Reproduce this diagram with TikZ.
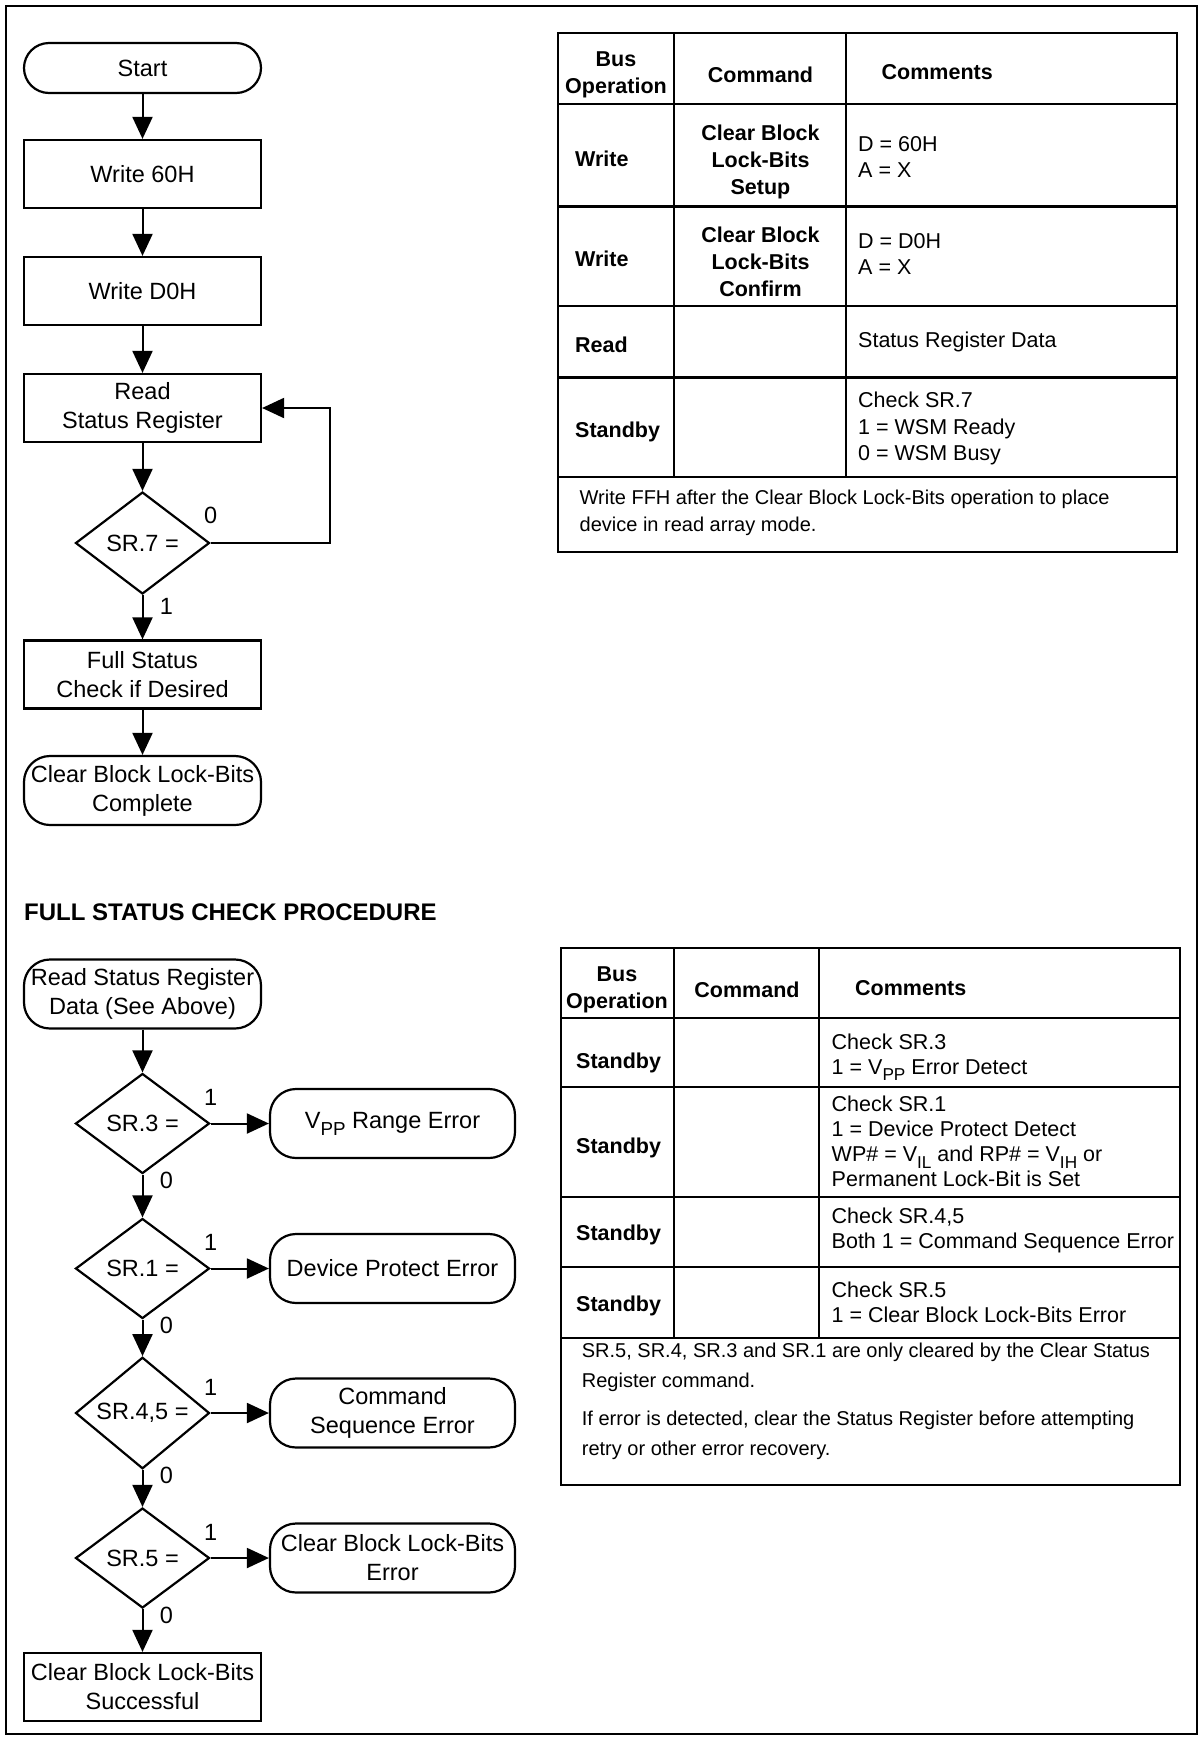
\documentclass[tikz,border=0pt]{standalone}
\usepackage{fontspec}
\setmainfont{Liberation Sans}
\usepackage{graphicx}
\usetikzlibrary{arrows.meta,shapes.geometric}

% font sizes (1pt = one unit of the drawing)
\newcommand{\flowfont}{\fontsize{23.5}{29}\selectfont}
\newcommand{\lowsub}[1]{\raisebox{-0.3em}{\scalebox{0.8}{#1}}}

\begin{document}
\begin{tikzpicture}[x=1pt,y=-1pt,
  flow/.style={draw, line width=2.2pt, inner sep=0pt, align=center, font=\flowfont},
  proc/.style={flow, rectangle, minimum width=237pt, minimum height=68pt},
  term/.style={flow, rectangle, rounded corners=26pt, minimum width=237pt, minimum height=69pt},
  errbox/.style={term, minimum width=245pt},
  dec/.style={flow, diamond, minimum width=134pt, minimum height=100pt},
  arr/.style={line width=2pt, -{Triangle[length=22pt,width=20pt]}},
  lbl/.style={font=\flowfont, inner sep=0pt},
  rule/.style={line width=2.6pt},
  hb/.style={inner sep=0pt, align=center, font=\fontsize{21.5}{27}\selectfont\bfseries},
  tcA/.style={inner sep=0pt, anchor=west, align=left, font=\fontsize{21.5}{26.5}\selectfont},
  tcB/.style={inner sep=0pt, anchor=west, align=left, font=\fontsize{21.5}{25}\selectfont},
  noteA/.style={inner sep=0pt, anchor=west, align=left, font=\fontsize{20}{26.5}\selectfont},
  noteB/.style={inner sep=0pt, anchor=west, align=left, font=\fontsize{20}{30}\selectfont}
]
\useasboundingbox (0,0) rectangle (1199,1741);
\fill[white] (0,0) rectangle (1199,1741);

% page frame
\draw[line width=2pt] (6,6) rectangle (1197,1734);

% ---------- clear block lock-bits flowchart ----------
\node[term, rounded corners=25pt, minimum height=50pt] (start) at (142.5,68) {Start};
\node[proc] (w60) at (142.5,174) {Write 60H};
\node[proc] (wd0) at (142.5,291) {Write D0H};
\node[proc] (rsr) at (142.5,408) {Read\\Status Register};
\node[dec, minimum height=102pt] (d7) at (142.5,543) {SR.7 =};
\node[proc] (fsc) at (142.5,674.5) {Full Status\\Check if Desired};
\node[term] (cplt) at (142.5,790.5) {Clear Block Lock-Bits\\Complete};

\draw[arr] (start.south) -- (w60.north);
\draw[arr] (w60.south) -- (wd0.north);
\draw[arr] (wd0.south) -- (rsr.north);
\draw[arr] (rsr.south) -- (d7.north);
\draw[arr] (d7.south) -- (fsc.north);
\draw[arr] (fsc.south) -- (cplt.north);
\coordinate (lp) at (330,543);
\draw[arr] (d7.east) -- (lp) |- (rsr.east);
\node[lbl] (l7z) at ([yshift=28pt]d7.east) {0};
\node[lbl] (l7o) at ([xshift=24pt,yshift=-11pt]d7.south) {1};

% ---------- full status check procedure ----------
\node[inner sep=0pt, anchor=west, font=\fontsize{24}{29}\selectfont\bfseries] (title) at (24,912.6) {FULL STATUS CHECK PROCEDURE};

\node[term] (rsd) at (142.5,994) {Read Status Register\\Data (See Above)};
\node[dec] (d3) at (142.5,1123.5) {SR.3 =};
\node[dec] (d1) at (142.5,1268.5) {SR.1 =};
\node[dec] (d45) at (142.5,1413) {SR.4,5 =};
\node[dec] (d5) at (142.5,1558) {SR.5 =};
\node[errbox] (vpp) at (392.5,1123.5) {V\lowsub{PP} Range Error};
\node[errbox] (dpe) at (392.5,1268.5) {Device Protect Error};
\node[errbox] (cse) at (392.5,1413) {Command\\Sequence Error};
\node[errbox] (cbe) at (392.5,1558) {Clear Block Lock-Bits\\Error};
\node[proc] (succ) at (142.5,1687) {Clear Block Lock-Bits\\Successful};

\draw[arr] (rsd.south) -- (d3.north);
\draw[arr] (d3.south) -- (d1.north);
\draw[arr] (d1.south) -- (d45.north);
\draw[arr] (d45.south) -- (d5.north);
\draw[arr] (d5.south) -- (succ.north);
\draw[arr] (d3.east) -- (vpp.west);
\draw[arr] (d1.east) -- (dpe.west);
\draw[arr] (d45.east) -- (cse.west);
\draw[arr] (d5.east) -- (cbe.west);

\foreach \d in {d3,d1,d45,d5}{
  \node[lbl] (\d one) at ([yshift=26pt]\d.east) {1};
  \node[lbl] (\d zero) at ([xshift=24pt,yshift=-6pt]\d.south) {0};
}

% ---------- upper bus operation table ----------
\draw[rule] (558,33) rectangle (1177,552);
\foreach \yy in {104,206.5,306,377.5,477} \draw[rule] (558,\yy) -- (1177,\yy);
\foreach \xx in {674,846} \draw[rule] (\xx,33) -- (\xx,477);

\node[hb] (ah1) at (616,74.5) {Bus\\Operation};
\node[hb] (ah2) at (760.5,74.5) {Command};
\node[hb, anchor=west] (ah3) at (881.5,72) {Comments};

\node[hb, anchor=west] (a1a) at (575,159) {Write};
\node[hb] (a1b) at (760.5,161.5) {Clear Block\\Lock-Bits\\Setup};
\node[tcA] (a1c) at (858,157) {D = 60H\\A = X};

\node[hb, anchor=west] (a2a) at (575,259) {Write};
\node[hb] (a2b) at (760.5,261.5) {Clear Block\\Lock-Bits\\Confirm};
\node[tcA] (a2c) at (858,254) {D = D0H\\A = X};

\node[hb, anchor=west] (a3a) at (575,345) {Read};
\node[tcA] (a3c) at (858,342) {Status Register Data};

\node[hb, anchor=west] (a4a) at (575,432) {Standby};
\node[tcA] (a4c) at (858,428.5) {Check SR.7\\1 = WSM Ready\\0 = WSM Busy};

\node[noteA] (anote) at (579.5,513) {Write FFH after the Clear Block Lock-Bits operation to place\\device in read array mode.};

% ---------- lower bus operation table ----------
\draw[rule] (561,948) rectangle (1180,1485);
\foreach \yy in {1018,1087,1197,1267,1338} \draw[rule] (561,\yy) -- (1180,\yy);
\foreach \xx in {674,819} \draw[rule] (\xx,948) -- (\xx,1338);

\node[hb] (bh1) at (617,990.3) {Bus\\Operation};
\node[hb] (bh2) at (747,990) {Command};
\node[hb, anchor=west] (bh3) at (855,988) {Comments};

\node[hb, anchor=west] (b1a) at (576,1062.5) {Standby};
\node[tcB] (b1c) at (831.5,1057) {Check SR.3\\1 = V\lowsub{PP} Error Detect};

\node[hb, anchor=west] (b2a) at (576,1148) {Standby};
\node[tcB] (b2c) at (831.5,1141.7) {Check SR.1\\1 = Device Protect Detect\\WP\# = V\lowsub{IL} and RP\# = V\lowsub{IH} or\\Permanent Lock-Bit is Set};

\node[hb, anchor=west] (b3a) at (576,1234.6) {Standby};
\node[tcB] (b3c) at (831.5,1230) {Check SR.4,5\\Both 1 = Command Sequence Error};

\node[hb, anchor=west] (b4a) at (576,1305.7) {Standby};
\node[tcB] (b4c) at (831.5,1302) {Check SR.5\\1 = Clear Block Lock-Bits Error};

\node[noteB] (bnote1) at (581.7,1367) {SR.5, SR.4, SR.3 and SR.1 are only cleared by the Clear Status\\Register command.};
\node[noteB] (bnote2) at (581.7,1435) {If error is detected, clear the Status Register before attempting\\retry or other error recovery.};
\end{tikzpicture}
\end{document}
